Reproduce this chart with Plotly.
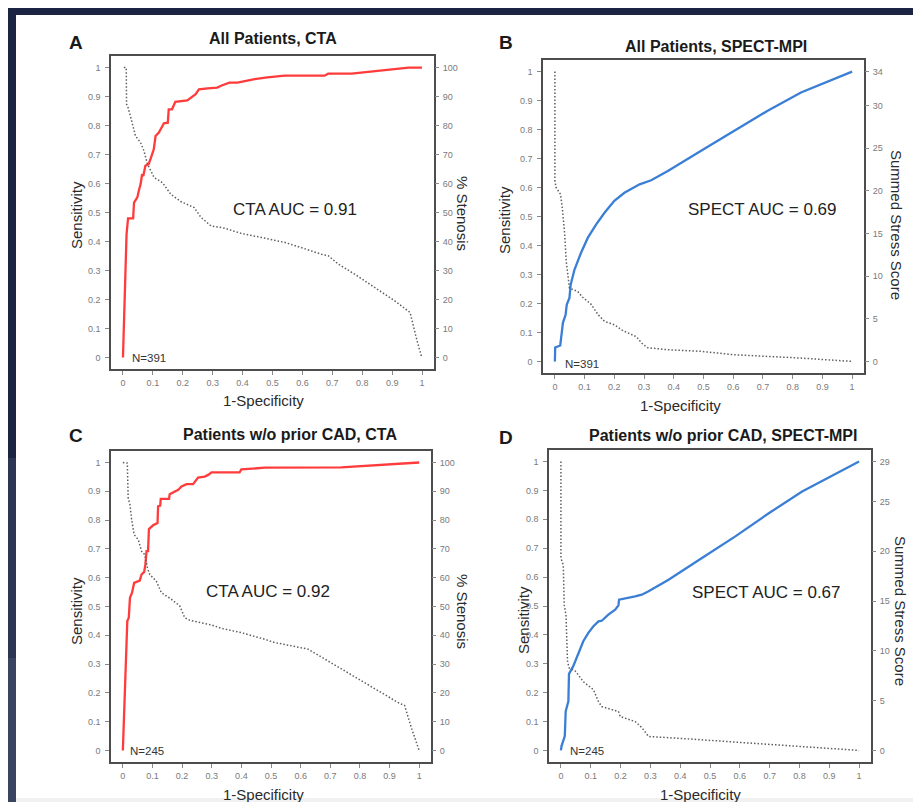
import plotly.graph_objects as go

W, H = 921, 802
FONT = "Liberation Sans, Arial, sans-serif"

# ---------------- data ----------------
# Panel A: All Patients, CTA
a_roc_x = [0, 0.012, 0.017, 0.034, 0.037, 0.048, 0.053, 0.059, 0.064, 0.068, 0.075, 0.086, 0.094,
           0.103, 0.109, 0.12, 0.137, 0.15, 0.153, 0.164, 0.175, 0.215, 0.243, 0.254, 0.283, 0.315,
           0.332, 0.356, 0.383, 0.44, 0.483, 0.507, 0.54, 0.674, 0.686, 0.764, 0.955, 1.0]
a_roc_y = [0, 0.425, 0.48, 0.48, 0.534, 0.552, 0.575, 0.598, 0.632, 0.626, 0.661, 0.667, 0.69,
           0.718, 0.764, 0.776, 0.808, 0.81, 0.856, 0.856, 0.882, 0.887, 0.908, 0.925, 0.928, 0.931,
           0.939, 0.948, 0.948, 0.96, 0.966, 0.968, 0.972, 0.972, 0.979, 0.979, 1.0, 1.0]
a_cut_x = [0.003, 0.011, 0.012, 0.017, 0.026, 0.042, 0.059, 0.07, 0.082, 0.104, 0.132, 0.16, 0.193,
           0.238, 0.261, 0.294, 0.339, 0.395, 0.462, 0.54, 0.596, 0.663, 0.686, 0.72, 0.775, 0.842,
           0.909, 0.96, 0.971, 0.982, 0.999]
a_cut_v = [100, 100, 87.4, 86.2, 82.8, 76.4, 74.1, 71.3, 66.7, 62.1, 60.3, 56.3, 53.8, 51.7, 48.3,
           45.4, 44.6, 42.8, 41.4, 39.7, 37.9, 35.6, 35.1, 32.2, 28.7, 24.1, 19.5, 15.5, 10.3, 6.3, 0]

# Panel B: All Patients, SPECT-MPI
b_roc_x = [0, 0.001, 0.018, 0.027, 0.036, 0.04, 0.049, 0.053, 0.066, 0.088, 0.111, 0.139, 0.167,
           0.2, 0.234, 0.257, 0.285, 0.324, 0.38, 0.492, 0.604, 0.716, 0.828, 1.0]
b_roc_y = [0, 0.048, 0.055, 0.133, 0.161, 0.196, 0.219, 0.265, 0.317, 0.375, 0.427, 0.473, 0.513,
           0.554, 0.582, 0.594, 0.611, 0.625, 0.657, 0.727, 0.796, 0.865, 0.928, 1.0]
b_cut_x = [0.0, 0.0, 0.004, 0.019, 0.025, 0.033, 0.038, 0.049, 0.077, 0.094, 0.122, 0.145, 0.167,
           0.2, 0.229, 0.274, 0.296, 0.313, 0.38, 0.492, 0.604, 0.716, 0.828, 1.0]
b_cut_v = [34, 21.2, 20.4, 19.6, 18.0, 14.9, 11.8, 8.6, 8.2, 7.5, 6.7, 5.5, 4.7, 4.3, 3.6, 2.9,
           2.0, 1.6, 1.37, 1.18, 0.78, 0.59, 0.39, 0]

# Panel C: Patients w/o prior CAD, CTA
c_roc_x = [0, 0.015, 0.02, 0.024, 0.031, 0.038, 0.057, 0.063, 0.072, 0.076, 0.08, 0.085, 0.088,
           0.102, 0.117, 0.119, 0.126, 0.128, 0.156, 0.158, 0.187, 0.198, 0.215, 0.237, 0.254,
           0.276, 0.288, 0.299, 0.394, 0.4, 0.479, 0.737, 1.0]
c_roc_y = [0, 0.45, 0.461, 0.53, 0.548, 0.582, 0.59, 0.611, 0.62, 0.646, 0.692, 0.692, 0.769,
           0.782, 0.79, 0.848, 0.85, 0.874, 0.874, 0.89, 0.905, 0.917, 0.925, 0.925, 0.948,
           0.951, 0.957, 0.966, 0.966, 0.976, 0.982, 0.983, 1.0]
c_cut_x = [0, 0.015, 0.018, 0.024, 0.029, 0.038, 0.052, 0.063, 0.074, 0.083, 0.091, 0.113, 0.13,
           0.164, 0.192, 0.209, 0.226, 0.299, 0.333, 0.4, 0.479, 0.512, 0.625, 0.692, 0.748,
           0.804, 0.861, 0.928, 0.951, 0.973, 1.0]
c_cut_v = [100, 99.8, 87.7, 85.4, 80.7, 75, 73.2, 69.2, 68, 63.4, 61.1, 58.8, 54.8, 52.5, 50.2,
           46.1, 45.2, 43.6, 42.4, 40.9, 38.6, 37.5, 35.2, 31.1, 27.7, 24.2, 20.8, 16.7, 15.6, 8.1, 0]

# Panel D: Patients w/o prior CAD, SPECT-MPI
d_roc_x = [0, 0.002, 0.013, 0.016, 0.025, 0.027, 0.041, 0.058, 0.075, 0.092, 0.109, 0.126, 0.137,
           0.159, 0.182, 0.193, 0.195, 0.249, 0.271, 0.294, 0.361, 0.473, 0.585, 0.697, 0.809, 1.0]
d_roc_y = [0, 0.015, 0.05, 0.136, 0.17, 0.265, 0.291, 0.337, 0.378, 0.407, 0.43, 0.447, 0.449,
           0.47, 0.487, 0.502, 0.522, 0.533, 0.539, 0.551, 0.591, 0.666, 0.741, 0.821, 0.896, 1.0]
d_cut_x = [0, 0, 0.008, 0.011, 0.017, 0.022, 0.027, 0.047, 0.058, 0.075, 0.109, 0.126, 0.137,
           0.193, 0.199, 0.249, 0.271, 0.294, 0.406, 0.507, 0.675, 0.843, 1.0]
d_cut_v = [29, 19.3, 18.6, 14.6, 13.6, 9.0, 8.3, 8.0, 7.6, 6.9, 6.1, 4.9, 4.4, 3.9, 3.4, 2.9, 2.3,
           1.4, 1.2, 1.0, 0.67, 0.33, 0]

x_ticks = [0, 0.1, 0.2, 0.3, 0.4, 0.5, 0.6, 0.7, 0.8, 0.9, 1]
x_ticktext = ["0", "0.1", "0.2", "0.3", "0.4", "0.5", "0.6", "0.7", "0.8", "0.9", "1"]
stenosis_ticks = [0, 10, 20, 30, 40, 50, 60, 70, 80, 90, 100]
sss_ticks_b = [0, 5, 10, 15, 20, 25, 30, 34]
sss_ticks_d = [0, 5, 10, 15, 20, 25, 29]

panels = [
    dict(letter="A", title="All Patients, CTA", roc=(a_roc_x, a_roc_y), cut=(a_cut_x, a_cut_v),
         color="#ff3b3b", rmax=100, rticks=stenosis_ticks, auc="CTA AUC = 0.91", n="N=391",
         rtitle="% Stenosis",
         box=(103, 426, 48, 361), letter_xy=(68, 34), title_xy=(265, 31),
         sens_xy=(68, 207), spec_xy=(255, 392), rtitle_xy=(455, 205),
         auc_xy=(287, 202), n_xy=(122, 350)),
    dict(letter="B", title="All Patients, SPECT-MPI", roc=(b_roc_x, b_roc_y), cut=(b_cut_x, b_cut_v),
         color="#3a7fd5", rmax=34, rticks=sss_ticks_b, auc="SPECT AUC = 0.69", n="N=391",
         rtitle="Summed Stress Score",
         box=(535, 856, 52, 365), letter_xy=(498, 34), title_xy=(708, 38),
         sens_xy=(497, 212), spec_xy=(672, 397), rtitle_xy=(889, 217),
         auc_xy=(754, 202), n_xy=(555, 356)),
    dict(letter="C", title="Patients w/o prior CAD, CTA", roc=(c_roc_x, c_roc_y), cut=(c_cut_x, c_cut_v),
         color="#ff3b3b", rmax=100, rticks=stenosis_ticks, auc="CTA AUC = 0.92", n="N=245",
         rtitle="% Stenosis",
         box=(103, 423, 443, 754), letter_xy=(68, 428), title_xy=(282, 426),
         sens_xy=(68, 603), spec_xy=(255, 786), rtitle_xy=(455, 603),
         auc_xy=(260, 583), n_xy=(120, 743)),
    dict(letter="D", title="Patients w/o prior CAD, SPECT-MPI", roc=(d_roc_x, d_roc_y), cut=(d_cut_x, d_cut_v),
         color="#3a7fd5", rmax=29, rticks=sss_ticks_d, auc="SPECT AUC = 0.67", n="N=245",
         rtitle="Summed Stress Score",
         box=(541, 863, 442, 754), letter_xy=(498, 429), title_xy=(715, 428),
         sens_xy=(515, 612), spec_xy=(692, 786), rtitle_xy=(893, 603),
         auc_xy=(758, 584), n_xy=(560, 743)),
]


def px(x):
    return x / W


def py(y):
    return 1 - y / H


fig = go.Figure()
layout = dict(
    width=W, height=H, template="none",
    margin=dict(l=0, r=0, t=0, b=0),
    paper_bgcolor="#1c2444", plot_bgcolor="white",
    showlegend=False, font=dict(family=FONT, color="#333"),
)
annotations = []

tick_font = dict(family=FONT, size=9, color="#7a7a7a")
common_axis = dict(showgrid=False, zeroline=False, ticks="outside", ticklen=4, tickwidth=1,
                   tickcolor="#8a8a8a", tickfont=tick_font, automargin=False, fixedrange=True)

for i, p in enumerate(panels, start=1):
    x0, x1, y0, y1 = p["box"]
    xa, ya, ra = f"x{i}", f"y{i}", f"y{i + 4}"
    layout[f"xaxis{i}"] = dict(
        domain=[px(x0), px(x1)], range=[-0.04, 1.04], anchor=ya,
        tickvals=x_ticks, ticktext=x_ticktext, showline=True, mirror=True,
        linecolor="#4d4d4d", linewidth=1.5, **common_axis)
    layout[f"yaxis{i}"] = dict(
        domain=[py(y1), py(y0)], range=[-0.04, 1.04], anchor=xa,
        tickvals=x_ticks, ticktext=x_ticktext, showline=True, mirror=True,
        linecolor="#4d4d4d", linewidth=1.5, ticklabelstandoff=3, **common_axis)
    rm = p["rmax"]
    layout[f"yaxis{i + 4}"] = dict(
        overlaying=ya, side="right", anchor=xa, range=[-0.04 * rm, 1.04 * rm],
        tickvals=p["rticks"], ticktext=[str(v) for v in p["rticks"]], showline=False,
        ticklabelstandoff=2, **common_axis)

    cx, cv = p["cut"]
    fig.add_trace(go.Scatter(x=cx, y=cv, xaxis=xa, yaxis=ra, mode="lines",
                             line=dict(color="#5e5e5e", width=1.5, dash="1.5px,2px"),
                             hoverinfo="skip"))
    rx, ry = p["roc"]
    fig.add_trace(go.Scatter(x=rx, y=ry, xaxis=xa, yaxis=ya, mode="lines",
                             line=dict(color=p["color"], width=2.3), hoverinfo="skip"))

    def ann(text, xy, size, bold=False, color="#222", angle=0, xanchor="center"):
        annotations.append(dict(
            text=f"<b>{text}</b>" if bold else text, x=px(xy[0]), y=py(xy[1]),
            xref="paper", yref="paper", showarrow=False, xanchor=xanchor, yanchor="middle",
            textangle=angle, font=dict(family=FONT, size=size, color=color)))

    ann(p["letter"], p["letter_xy"], 19, bold=True, color="#1a1a1a")
    ann(p["title"], p["title_xy"], 16, bold=True, color="#1a1a1a")
    ann("Sensitivity", p["sens_xy"], 15, angle=-90, color="#2a2a2a")
    ann("1-Specificity", p["spec_xy"], 15, color="#2a2a2a")
    ann(p["rtitle"], p["rtitle_xy"], 15, angle=90, color="#2a2a2a")
    ann(p["auc"], p["auc_xy"], 17, color="#222")
    ann(p["n"], p["n_xy"], 11.5, color="#333", xanchor="left")

layout["annotations"] = annotations
layout["shapes"] = [
    dict(type="rect", xref="paper", yref="paper", x0=px(8), x1=1, y0=0, y1=py(7),
         fillcolor="white", line=dict(width=0), layer="below"),
    dict(type="rect", xref="paper", yref="paper", x0=px(8), x1=1, y0=0, y1=py(790),
         fillcolor="#f1f1f2", line=dict(width=0), layer="below"),
    dict(type="rect", xref="paper", yref="paper", x0=0, x1=px(8), y0=0, y1=py(450),
         fillcolor="#2c3552", line=dict(width=0), layer="below"),
    dict(type="rect", xref="paper", yref="paper", x0=0, x1=px(8), y0=0, y1=py(650),
         fillcolor="#3a4461", line=dict(width=0), layer="below"),
]
fig.update_layout(**layout)
fig.write_html("out.html")
